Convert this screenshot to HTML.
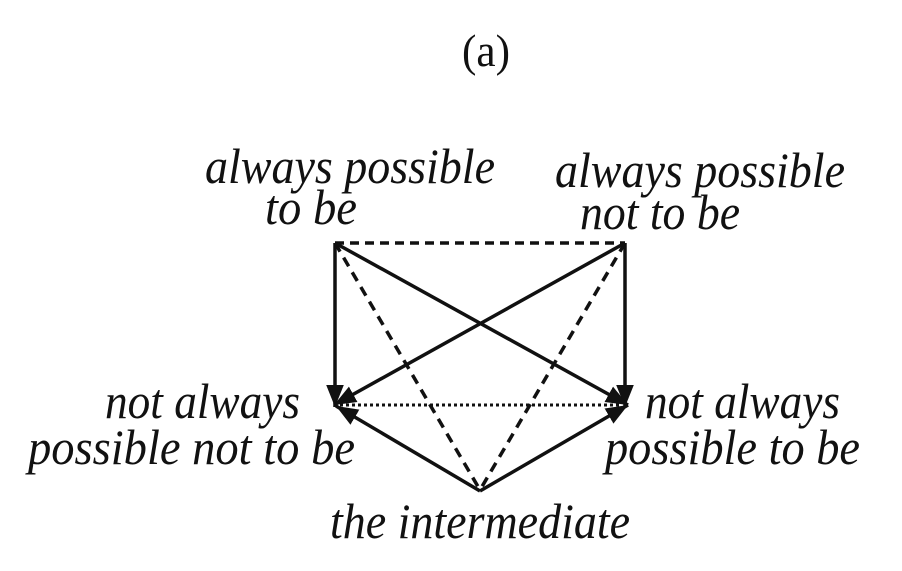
<!DOCTYPE html>
<html><head><style>
html,body{margin:0;padding:0;background:#fff;}
svg{display:block}
text{font-family:"Liberation Serif",serif;font-style:italic;font-size:50px;fill:#111}
</style></head><body>
<svg width="902" height="571" viewBox="0 0 902 571" xmlns="http://www.w3.org/2000/svg">
<defs>
<marker id="a" viewBox="0 0 20 16" refX="20" refY="8" markerWidth="22" markerHeight="18" markerUnits="userSpaceOnUse" orient="auto">
<path d="M0,0 L20,8 L0,16 Z" fill="#111"/>
</marker>
</defs>
<text x="486" y="66" text-anchor="middle" style="font-style:normal;font-size:46px" textLength="48" lengthAdjust="spacingAndGlyphs">(a)</text>
<text x="205" y="183" textLength="290" lengthAdjust="spacingAndGlyphs">always possible</text>
<text x="265" y="224" textLength="92" lengthAdjust="spacingAndGlyphs">to be</text>
<text x="555" y="187" textLength="290" lengthAdjust="spacingAndGlyphs">always possible</text>
<text x="580" y="229" textLength="160" lengthAdjust="spacingAndGlyphs">not to be</text>
<text x="105" y="418" textLength="195" lengthAdjust="spacingAndGlyphs">not always</text>
<text x="28" y="464" textLength="327" lengthAdjust="spacingAndGlyphs">possible not to be</text>
<text x="645" y="418" textLength="195" lengthAdjust="spacingAndGlyphs">not always</text>
<text x="605" y="464" textLength="255" lengthAdjust="spacingAndGlyphs">possible to be</text>
<text x="330" y="538" textLength="300" lengthAdjust="spacingAndGlyphs">the intermediate</text>
<g stroke="#111" fill="none" stroke-width="3.5">
<line x1="335" y1="243" x2="625" y2="243" stroke-dasharray="9,6"/>
<line x1="340" y1="405" x2="622" y2="405" stroke-dasharray="3,3" stroke-width="3"/>
<line x1="335" y1="243" x2="480" y2="490" stroke-dasharray="10,7"/>
<line x1="625" y1="243" x2="480" y2="490" stroke-dasharray="10,7"/>
<line x1="335" y1="243" x2="335" y2="407" marker-end="url(#a)"/>
<line x1="625" y1="243" x2="625" y2="407" marker-end="url(#a)"/>
<line x1="335" y1="243" x2="628" y2="405" marker-end="url(#a)"/>
<line x1="625" y1="243" x2="334" y2="405" marker-end="url(#a)"/>
<line x1="480" y1="491" x2="336" y2="406" marker-end="url(#a)"/>
<line x1="480" y1="491" x2="628" y2="405" marker-end="url(#a)"/>
</g>
</svg>
</body></html>
